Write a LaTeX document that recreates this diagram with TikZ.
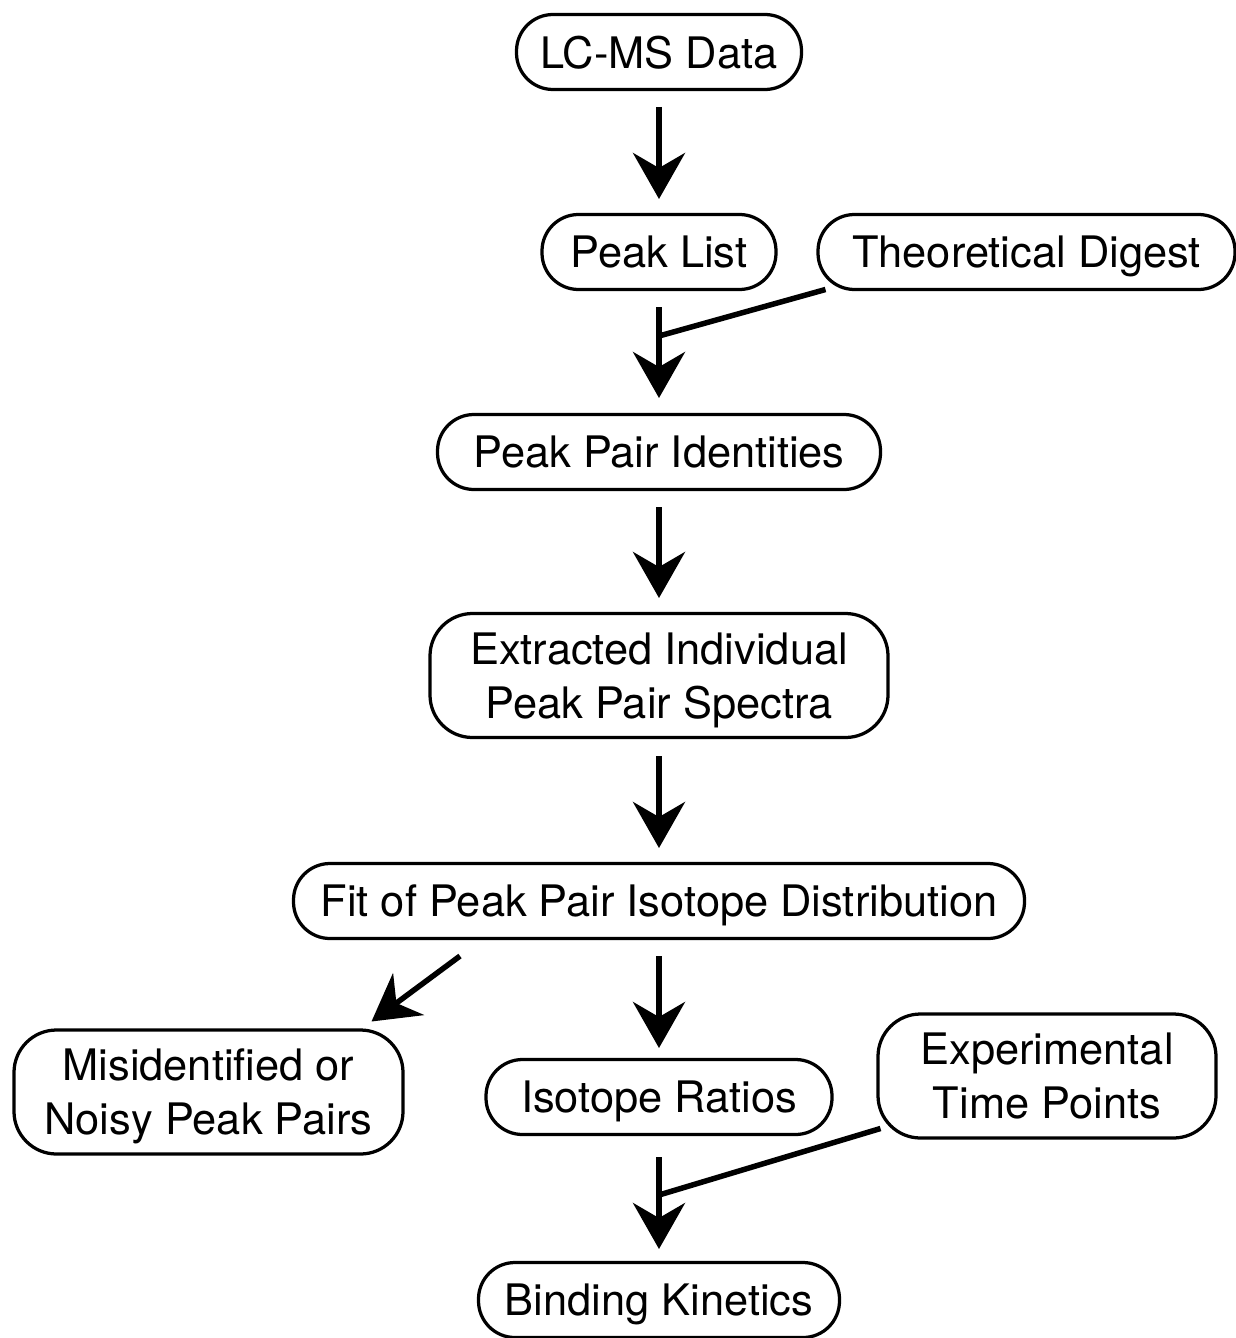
\documentclass[tikz,border=0pt]{standalone}
\usepackage{fontspec}
\setmainfont{TeX Gyre Heros}
\usepackage{tikz}
\usetikzlibrary{positioning,arrows.meta,calc}
\tikzset{
  pill/.style={rectangle,rounded corners=0.73cm,draw=black,line width=0.065cm,outer sep=0pt,align=center,minimum height=1.5cm,inner xsep=0pt,text depth=0pt,font=\fontsize{24.7}{30.7}\selectfont},
  tallpill/.style={pill,rounded corners=0.85cm,minimum height=2.48cm},
  flowarrow/.style={-{Stealth[length=0.92cm,width=1.04cm,inset=0.3cm]},line width=0.11cm},
  feedline/.style={line width=0.11cm}
}
\begin{document}
\begin{tikzpicture}[node distance=2.5cm]
  \useasboundingbox (0,0) rectangle (24.7,-26.76);
  \node[pill,minimum width=5.7cm] (lcms) at (13.18,-1.04) {LC-MS Data};
  \node[pill,minimum width=4.68cm,below=of lcms] (peaklist) {Peak List};
  \node[pill,minimum width=8.34cm,right=0.84cm of peaklist] (digest) {Theoretical Digest};
  \node[pill,minimum width=8.86cm,below=of peaklist] (identities) {Peak Pair Identities};
  \node[tallpill,minimum width=9.16cm,below=2.48cm of identities] (spectra) {Extracted Individual\\Peak Pair Spectra};
  \node[pill,minimum width=14.62cm,below=2.52cm of spectra] (fit) {Fit of Peak Pair Isotope Distribution};
  \node[pill,minimum width=6.92cm,below=2.42cm of fit] (ratios) {Isotope Ratios};
  \node[tallpill,minimum width=7.78cm,left=1.66cm of ratios,yshift=0.1cm] (noisy) {Misidentified or\\Noisy Peak Pairs};
  \node[tallpill,minimum width=6.76cm,right=0.92cm of ratios,yshift=0.42cm] (timepts) {Experimental\\Time Points};
  \node[pill,minimum width=7.22cm,below=2.56cm of ratios] (kinetics) {Binding Kinetics};

  % where the side inputs join the main flow
  \coordinate[below=0.93cm of peaklist] (merge1);
  \coordinate[below=1.21cm of ratios] (merge2);

  \draw[flowarrow,shorten <=0.35cm,shorten >=0.31cm] (lcms) -- (peaklist);
  \draw[flowarrow,shorten <=0.35cm,shorten >=0.33cm] (peaklist) -- (identities);
  \draw[feedline] ([xshift=0.15cm]digest.south west) -- (merge1);
  \draw[flowarrow,shorten <=0.35cm,shorten >=0.31cm] (identities) -- (spectra);
  \draw[flowarrow,shorten <=0.37cm,shorten >=0.31cm] (spectra) -- (fit);
  \draw[flowarrow,shorten <=0.35cm,shorten >=0.23cm] (fit) -- (ratios);
  \draw[flowarrow] ([xshift=3.33cm,yshift=-0.35cm]fit.south west) -- ([xshift=-0.63cm,yshift=0.17cm]noisy.north east);
  \draw[flowarrow,shorten <=0.45cm,shorten >=0.27cm] (ratios) -- (kinetics);
  \draw[feedline] ([xshift=0.05cm,yshift=0.19cm]timepts.south west) -- (merge2);
\end{tikzpicture}
\end{document}
